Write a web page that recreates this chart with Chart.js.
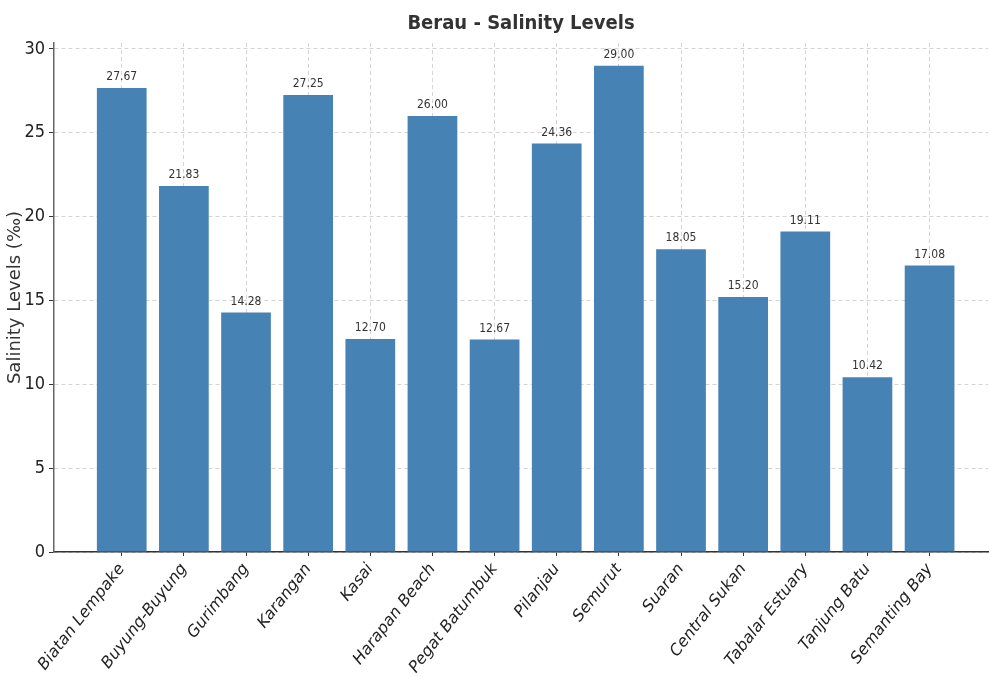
<!DOCTYPE html>
<html>
<head>
<meta charset="utf-8">
<script src="https://cdn.jsdelivr.net/npm/chart.js@4.4.1/dist/chart.umd.min.js"></script>
<style>
  html, body { margin: 0; padding: 0; background: #fff; }
  #wrap { width: 989px; height: 677px; }
</style>
</head>
<body>
<div id="wrap"><canvas id="chartSalinidade" width="989" height="677"></canvas></div>
<script>
// dados do gráfico
var locais = ['Biatan Lempake', 'Buyung-Buyung', 'Gurimbang', 'Karangan', 'Kasai', 'Harapan Beach', 'Pegat Batumbuk',
    'Pilanjau', 'Semurut', 'Suaran', 'Central Sukan', 'Tabalar Estuary', 'Tanjung Batu', 'Semanting Bay'];
var salinidade = [27.67, 21.83, 14.28, 27.25, 12.70, 26.00, 12.67, 24.36, 29.00, 18.05, 15.20, 19.11, 10.42, 17.08];
var yTicks = [0, 5, 10, 15, 20, 25, 30];

var fonteEstreita = '"Liberation Sans Narrow", "DejaVu Sans Condensed", "DejaVu Sans"';

// rótulos de valor em cima das barras
const rotulosValor = {
    id: 'rotulosValor',
    afterDatasetsDraw(chart) {
        const ctx = chart.ctx;
        const meta = chart.getDatasetMeta(0);
        ctx.save();
        ctx.font = '12px ' + fonteEstreita;
        ctx.fillStyle = '#333';
        ctx.textAlign = 'center';
        ctx.textBaseline = 'bottom';
        meta.data.forEach(function (bar, i) {
            ctx.fillText(salinidade[i].toFixed(2), bar.x, bar.y - 5);
        });
        ctx.restore();
    }
};

var ctxSal = document.getElementById('chartSalinidade');

new Chart(ctxSal, {
    type: 'bar',
    data: {
        datasets: [{
            label: 'Salinity',
            data: salinidade.map(function (v, i) { return { x: i, y: v }; }),
            backgroundColor: '#4682b4',
            borderWidth: 0,
            barPercentage: 0.8,
            categoryPercentage: 1
        }]
    },
    options: {
        responsive: false,
        animation: false,
        layout: { padding: { right: 1 } },
        plugins: {
            legend: { display: false },
            tooltip: { enabled: false },
            title: {
                display: true,
                text: 'Berau - Salinity Levels',
                fullSize: false,
                color: '#333',
                font: { family: fonteEstreita, size: 20, weight: 'bold', lineHeight: 1.2 },
                padding: { top: 12, bottom: 7 }
            }
        },
        scales: {
            x: {
                type: 'linear',
                min: -1.09,
                max: 13.94,
                offset: false,
                z: 1,
                afterBuildTicks: function (scale) {
                    scale.ticks = locais.map(function (l, i) { return { value: i }; });
                },
                afterFit: function (scale) { scale.height = 125; },
                ticks: {
                    autoSkip: false,
                    minRotation: 52,
                    maxRotation: 52,
                    color: '#222',
                    padding: 4,
                    font: { family: '"DejaVu Sans"', size: 16, style: 'italic' },
                    callback: function (v) { return locais[v]; }
                },
                grid: {
                    offset: false,
                    color: 'rgba(176,176,176,0.55)',
                    tickColor: '#333',
                    tickLength: 4
                },
                border: { display: true, color: '#333', width: 1.5, dash: [4, 3] }
            },
            y: {
                min: 0,
                max: 30.35,
                z: 1,
                afterBuildTicks: function (scale) {
                    scale.ticks = yTicks.map(function (t) { return { value: t }; });
                },
                afterFit: function (scale) { scale.width = 54; },
                ticks: {
                    color: '#222',
                    padding: 4,
                    font: { family: fonteEstreita, size: 18 }
                },
                title: {
                    display: true,
                    text: 'Salinity Levels (‰)',
                    color: '#333',
                    padding: { top: 5, bottom: 0 },
                    font: { family: '"DejaVu Sans"', size: 18 }
                },
                grid: {
                    color: 'rgba(176,176,176,0.55)',
                    tickColor: '#333',
                    tickLength: 5
                },
                border: { display: true, color: '#666', width: 1.5, dash: [4, 3] }
            }
        }
    },
    plugins: [rotulosValor]
});
</script>
</body>
</html>
